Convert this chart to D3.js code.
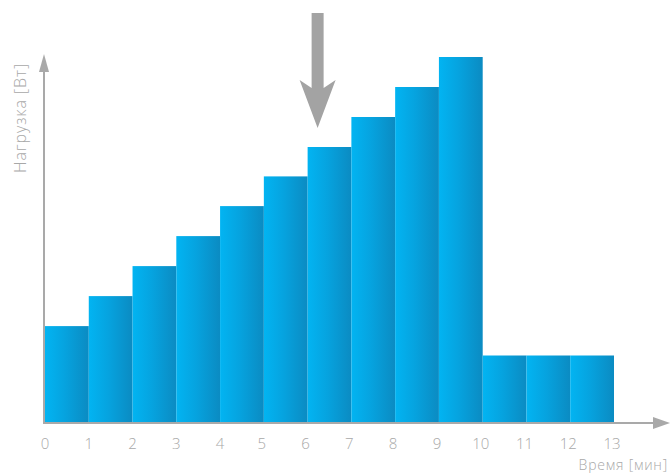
<!DOCTYPE html>
<html><head><meta charset="utf-8">
<script src="https://cdn.jsdelivr.net/npm/d3@7"></script>
<style>html,body{margin:0;padding:0;background:#fff;overflow:hidden}</style>
</head><body>
<svg id="c" width="670" height="474"></svg>
<script>
const minutes = [0,1,2,3,4,5,6,7,8,9,10,11,12];
const load = [3.23,4.23,5.23,6.23,7.23,8.22,9.2,10.2,11.2,12.2,2.25,2.25,2.25];
const tickLabels = ["0","1","2","3","4","5","6","7","8","9","10","11","12","13"];
const xTitle = "Время [мин]";
const yTitle = "Нагрузка [Вт]";

const svg = d3.select("#c");
const x0 = 45, x1 = 614, yBase = 423, yTop = 57;
const x = d3.scaleLinear().domain([0, 13]).range([x0, x1]);
const y = d3.scaleLinear().domain([0, 12.2]).range([yBase, yTop]);

const defs = svg.append("defs");
const g = defs.append("linearGradient").attr("id","bar").attr("x1","0").attr("x2","1").attr("y1","0").attr("y2","0");
g.append("stop").attr("offset","0").attr("stop-color","#02b4f2");
g.append("stop").attr("offset","0.45").attr("stop-color","#06a3df");
g.append("stop").attr("offset","1").attr("stop-color","#0b8bc2");

svg.append("g").selectAll("rect").data(minutes).join("rect")
  .attr("x", d => x(d))
  .attr("width", d => x(d + 1) - x(d))
  .attr("y", (d,i) => y(load[i]))
  .attr("height", (d,i) => yBase - y(load[i]))
  .attr("fill", "url(#bar)");

const axisColor = "#a9a9a9";
const font = "'Open Sans', 'DejaVu Sans', sans-serif";
// y axis
svg.append("line").attr("x1",44).attr("x2",44).attr("y1",yBase+1).attr("y2",66)
  .attr("stroke",axisColor).attr("stroke-width",2);
svg.append("path").attr("d","M44,54 L39,72 L49,72 Z").attr("fill",axisColor);
// x axis
svg.append("line").attr("x1",43).attr("x2",658).attr("y1",yBase).attr("y2",yBase)
  .attr("stroke",axisColor).attr("stroke-width",2);
svg.append("path").attr("d","M670,423 L653,417 L653,429 Z").attr("fill",axisColor);

// tick labels
const tl = [0,1,2,3,4,5,6,7,8,9,10,11,12,13];
svg.append("g").selectAll("text").data(tl).join("text")
  .attr("x", d => x(d) - (d >= 5 ? 2 : 0))
  .attr("y", 449)
  .attr("text-anchor","middle")
  .attr("font-family",font)
  .attr("font-weight",300)
  .attr("font-size",15)
  .attr("fill","#a8a8a8")
  .text((d,i) => tickLabels[i]);

svg.append("text").attr("x",668).attr("y",470).attr("text-anchor","end")
  .attr("font-family",font).attr("font-weight",300)
  .attr("font-size",14).attr("letter-spacing",0.8).attr("fill","#a8a8a8").text(xTitle);

svg.append("text").attr("transform","translate(26,118) rotate(-90)")
  .attr("text-anchor","middle")
  .attr("font-family",font).attr("font-weight",300)
  .attr("font-size",16).attr("letter-spacing",0.9).attr("fill","#a8a8a8").text(yTitle);

// pointer arrow at minute 6
const ax = x(6) + 10;
svg.append("path")
  .attr("d", `M${ax-6},13 L${ax+6},13 L${ax+6},88 L${ax+18},80 L${ax},128 L${ax-18},80 L${ax-6},88 Z`)
  .attr("fill","#a3a3a3");
</script>
</body></html>
